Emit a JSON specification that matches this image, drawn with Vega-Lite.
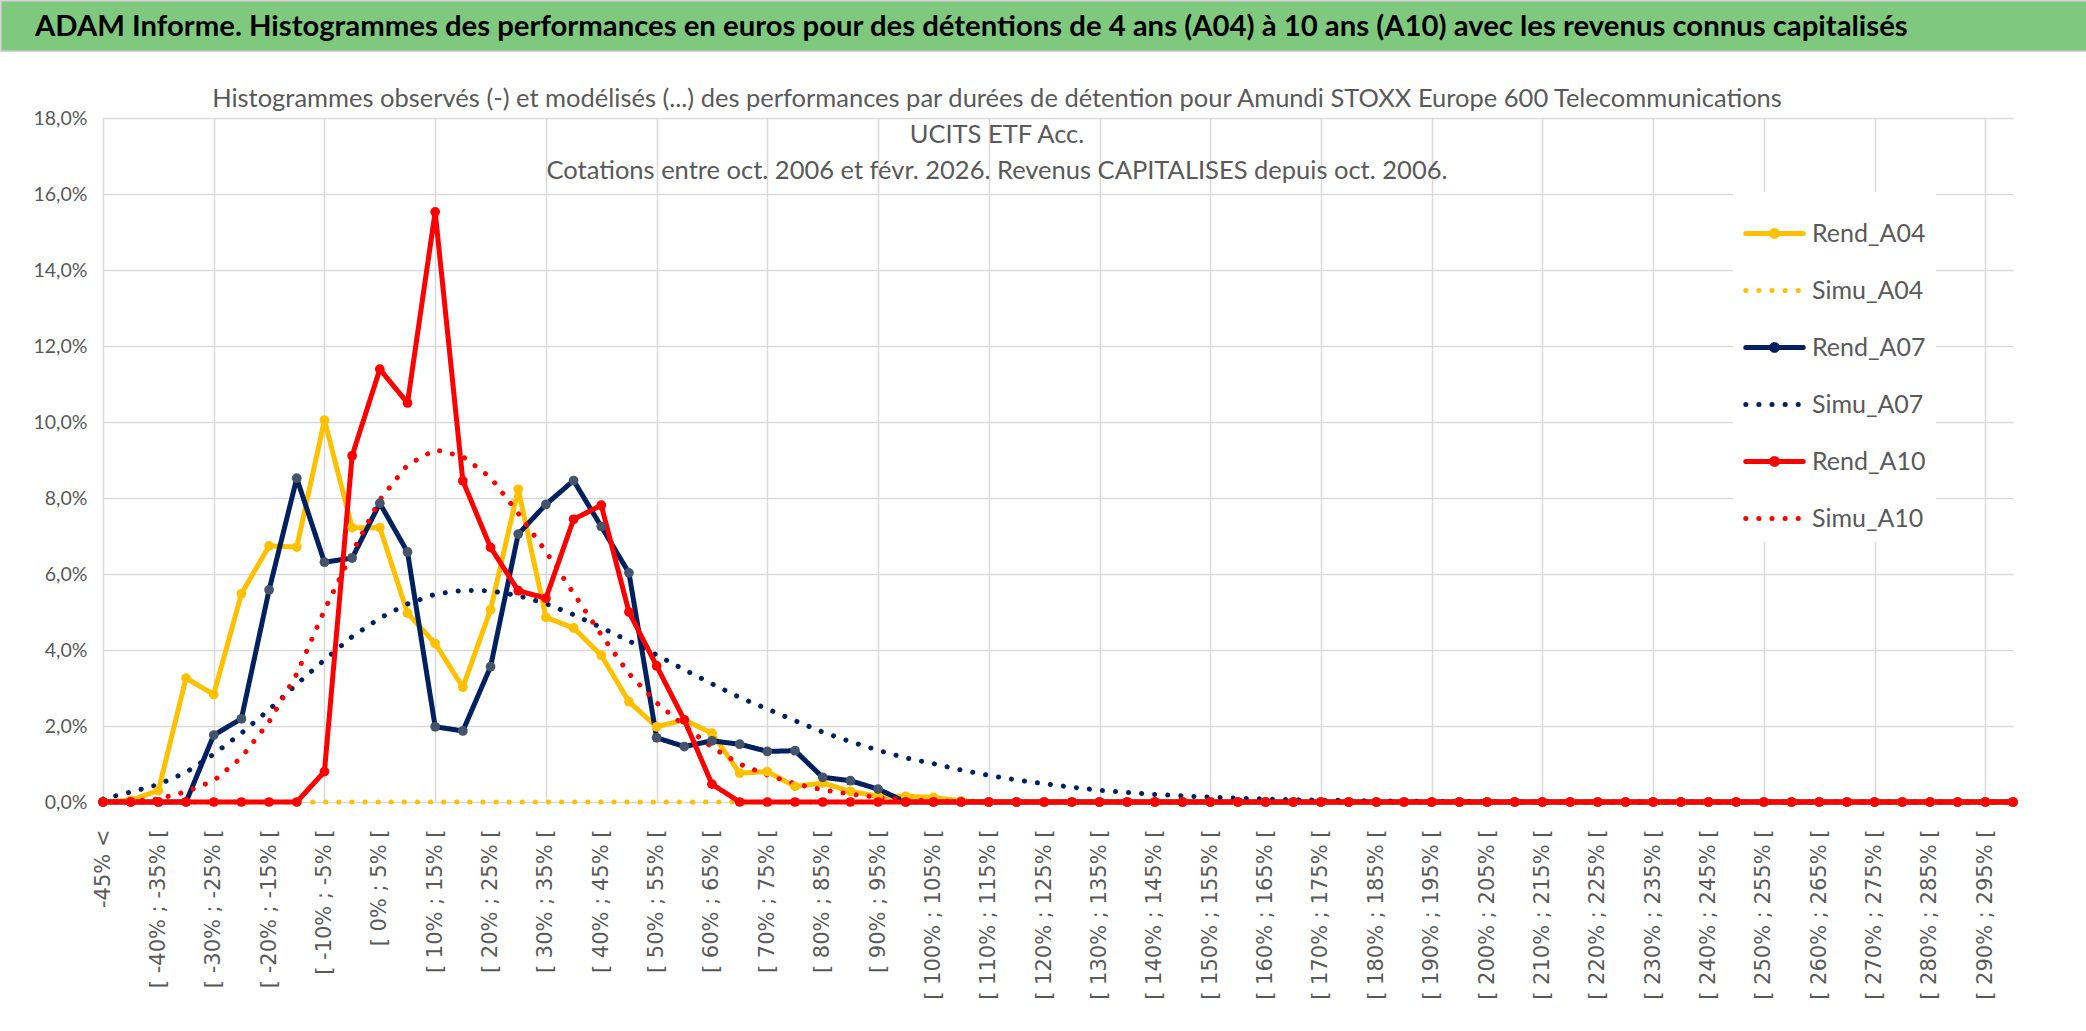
{
  "$schema": "https://vega.github.io/schema/vega-lite/v6.json",
  "description": "ADAM Informe - histogrammes des performances A04 / A07 / A10",
  "background": "white",
  "padding": 0,
  "spacing": 34,
  "config": {
    "locale": {"number": {"decimal": ",", "thousands": " ", "grouping": [3], "currency": ["", " €"]}},
    "view": {"stroke": null},
    "font": "Lato"
  },
  "vconcat": [
    {
      "width": 2086,
      "height": 50,
      "view": {"fill": "#7FC97F", "stroke": "#C8C8C8", "strokeWidth": 1.5},
      "title": {
        "text": "ADAM Informe. Histogrammes des performances en euros pour des détentions de 4 ans (A04) à 10 ans (A10) avec les revenus connus capitalisés",
        "anchor": "start",
        "dx": 34,
        "offset": -41,
        "font": "Lato",
        "fontSize": 29.3,
        "fontWeight": "bold",
        "color": "#000000"
      },
      "data": {"values": []},
      "mark": "rule",
      "encoding": {}
    },
    {
      "width": 2086,
      "height": 684,
      "title": {
        "text": [
          "Histogrammes observés (-) et modélisés (...) des performances par durées de détention pour Amundi STOXX Europe 600 Telecommunications",
          "UCITS ETF Acc.",
          "Cotations entre oct. 2006 et févr. 2026. Revenus CAPITALISES depuis oct. 2006."
        ],
        "anchor": "middle",
        "dx": -47,
        "offset": -76,
        "font": "Lato",
        "fontSize": 25.5,
        "fontWeight": "normal",
        "lineHeight": 36,
        "color": "#595959"
      },
      "data": {
        "values": [
          {"classe": "-45% <", "Rend_A04": 0, "Simu_A04": 0, "Rend_A07": 0, "Simu_A07": 0.0008, "Rend_A10": 0, "Simu_A10": 0},
          {"classe": "[ -45% ; -40% [", "Rend_A04": 0.0005, "Simu_A04": 0, "Rend_A07": 0, "Simu_A07": 0.0026, "Rend_A10": 0, "Simu_A10": 0.0002},
          {"classe": "[ -40% ; -35% [", "Rend_A04": 0.003, "Simu_A04": 0, "Rend_A07": 0, "Simu_A07": 0.0046, "Rend_A10": 0, "Simu_A10": 0.0008},
          {"classe": "[ -35% ; -30% [", "Rend_A04": 0.0326, "Simu_A04": 0, "Rend_A07": 0, "Simu_A07": 0.0078, "Rend_A10": 0, "Simu_A10": 0.0027},
          {"classe": "[ -30% ; -25% [", "Rend_A04": 0.0283, "Simu_A04": 0, "Rend_A07": 0.0176, "Simu_A07": 0.0126, "Rend_A10": 0, "Simu_A10": 0.0056},
          {"classe": "[ -25% ; -20% [", "Rend_A04": 0.0548, "Simu_A04": 0, "Rend_A07": 0.0219, "Simu_A07": 0.0181, "Rend_A10": 0, "Simu_A10": 0.0117},
          {"classe": "[ -20% ; -15% [", "Rend_A04": 0.0674, "Simu_A04": 0, "Rend_A07": 0.0558, "Simu_A07": 0.0243, "Rend_A10": 0, "Simu_A10": 0.0211},
          {"classe": "[ -15% ; -10% [", "Rend_A04": 0.0671, "Simu_A04": 0, "Rend_A07": 0.0852, "Simu_A07": 0.031, "Rend_A10": 0, "Simu_A10": 0.0337},
          {"classe": "[ -10% ; -5% [", "Rend_A04": 0.1005, "Simu_A04": 0, "Rend_A07": 0.0631, "Simu_A07": 0.0374, "Rend_A10": 0.008, "Simu_A10": 0.0505},
          {"classe": "[ -5% ; 0% [", "Rend_A04": 0.0722, "Simu_A04": 0, "Rend_A07": 0.0642, "Simu_A07": 0.0435, "Rend_A10": 0.0911, "Simu_A10": 0.0656},
          {"classe": "[ 0% ; 5% [", "Rend_A04": 0.0722, "Simu_A04": 0, "Rend_A07": 0.0786, "Simu_A07": 0.0484, "Rend_A10": 0.1139, "Simu_A10": 0.0795},
          {"classe": "[ 5% ; 10% [", "Rend_A04": 0.0497, "Simu_A04": 0, "Rend_A07": 0.0658, "Simu_A07": 0.0521, "Rend_A10": 0.105, "Simu_A10": 0.0887},
          {"classe": "[ 10% ; 15% [", "Rend_A04": 0.0417, "Simu_A04": 0, "Rend_A07": 0.0198, "Simu_A07": 0.0547, "Rend_A10": 0.1553, "Simu_A10": 0.0927},
          {"classe": "[ 15% ; 20% [", "Rend_A04": 0.0302, "Simu_A04": 0, "Rend_A07": 0.0187, "Simu_A07": 0.0557, "Rend_A10": 0.0845, "Simu_A10": 0.0909},
          {"classe": "[ 20% ; 25% [", "Rend_A04": 0.0506, "Simu_A04": 0, "Rend_A07": 0.0356, "Simu_A07": 0.0556, "Rend_A10": 0.067, "Simu_A10": 0.0854},
          {"classe": "[ 25% ; 30% [", "Rend_A04": 0.0823, "Simu_A04": 0, "Rend_A07": 0.0705, "Simu_A07": 0.0543, "Rend_A10": 0.0556, "Simu_A10": 0.076},
          {"classe": "[ 30% ; 35% [", "Rend_A04": 0.0486, "Simu_A04": 0, "Rend_A07": 0.0783, "Simu_A07": 0.0522, "Rend_A10": 0.0536, "Simu_A10": 0.0659},
          {"classe": "[ 35% ; 40% [", "Rend_A04": 0.0458, "Simu_A04": 0, "Rend_A07": 0.0846, "Simu_A07": 0.0493, "Rend_A10": 0.0744, "Simu_A10": 0.0549},
          {"classe": "[ 40% ; 45% [", "Rend_A04": 0.0386, "Simu_A04": 0, "Rend_A07": 0.0725, "Simu_A07": 0.0459, "Rend_A10": 0.0781, "Simu_A10": 0.044},
          {"classe": "[ 45% ; 50% [", "Rend_A04": 0.0264, "Simu_A04": 0, "Rend_A07": 0.0603, "Simu_A07": 0.0424, "Rend_A10": 0.05, "Simu_A10": 0.0338},
          {"classe": "[ 50% ; 55% [", "Rend_A04": 0.0198, "Simu_A04": 0, "Rend_A07": 0.0169, "Simu_A07": 0.0387, "Rend_A10": 0.0358, "Simu_A10": 0.0261},
          {"classe": "[ 55% ; 60% [", "Rend_A04": 0.0216, "Simu_A04": 0, "Rend_A07": 0.0146, "Simu_A07": 0.0348, "Rend_A10": 0.0216, "Simu_A10": 0.0201},
          {"classe": "[ 60% ; 65% [", "Rend_A04": 0.0181, "Simu_A04": 0, "Rend_A07": 0.0161, "Simu_A07": 0.0311, "Rend_A10": 0.0047, "Simu_A10": 0.0144},
          {"classe": "[ 65% ; 70% [", "Rend_A04": 0.0076, "Simu_A04": 0, "Rend_A07": 0.0152, "Simu_A07": 0.0275, "Rend_A10": 0, "Simu_A10": 0.01},
          {"classe": "[ 70% ; 75% [", "Rend_A04": 0.008, "Simu_A04": 0, "Rend_A07": 0.0133, "Simu_A07": 0.0245, "Rend_A10": 0, "Simu_A10": 0.0071},
          {"classe": "[ 75% ; 80% [", "Rend_A04": 0.0041, "Simu_A04": 0, "Rend_A07": 0.0135, "Simu_A07": 0.0214, "Rend_A10": 0, "Simu_A10": 0.0048},
          {"classe": "[ 80% ; 85% [", "Rend_A04": 0.005, "Simu_A04": 0, "Rend_A07": 0.0065, "Simu_A07": 0.0184, "Rend_A10": 0, "Simu_A10": 0.0032},
          {"classe": "[ 85% ; 90% [", "Rend_A04": 0.0028, "Simu_A04": 0, "Rend_A07": 0.0056, "Simu_A07": 0.0159, "Rend_A10": 0, "Simu_A10": 0.0021},
          {"classe": "[ 90% ; 95% [", "Rend_A04": 0.0015, "Simu_A04": 0, "Rend_A07": 0.0034, "Simu_A07": 0.0136, "Rend_A10": 0, "Simu_A10": 0.0012},
          {"classe": "[ 95% ; 100% [", "Rend_A04": 0.0015, "Simu_A04": 0, "Rend_A07": 0, "Simu_A07": 0.0116, "Rend_A10": 0, "Simu_A10": 0.0006},
          {"classe": "[ 100% ; 105% [", "Rend_A04": 0.0012, "Simu_A04": 0, "Rend_A07": 0, "Simu_A07": 0.0101, "Rend_A10": 0, "Simu_A10": 0.0003},
          {"classe": "[ 105% ; 110% [", "Rend_A04": 0.0003, "Simu_A04": 0, "Rend_A07": 0, "Simu_A07": 0.0084, "Rend_A10": 0, "Simu_A10": 0.0001},
          {"classe": "[ 110% ; 115% [", "Rend_A04": 0, "Simu_A04": 0, "Rend_A07": 0, "Simu_A07": 0.007, "Rend_A10": 0, "Simu_A10": 0},
          {"classe": "[ 115% ; 120% [", "Rend_A04": 0, "Simu_A04": 0, "Rend_A07": 0, "Simu_A07": 0.0058, "Rend_A10": 0, "Simu_A10": 0},
          {"classe": "[ 120% ; 125% [", "Rend_A04": 0, "Simu_A04": 0, "Rend_A07": 0, "Simu_A07": 0.0048, "Rend_A10": 0, "Simu_A10": 0},
          {"classe": "[ 125% ; 130% [", "Rend_A04": 0, "Simu_A04": 0, "Rend_A07": 0, "Simu_A07": 0.0039, "Rend_A10": 0, "Simu_A10": 0},
          {"classe": "[ 130% ; 135% [", "Rend_A04": 0, "Simu_A04": 0, "Rend_A07": 0, "Simu_A07": 0.0031, "Rend_A10": 0, "Simu_A10": 0},
          {"classe": "[ 135% ; 140% [", "Rend_A04": 0, "Simu_A04": 0, "Rend_A07": 0, "Simu_A07": 0.0025, "Rend_A10": 0, "Simu_A10": 0},
          {"classe": "[ 140% ; 145% [", "Rend_A04": 0, "Simu_A04": 0, "Rend_A07": 0, "Simu_A07": 0.002, "Rend_A10": 0, "Simu_A10": 0},
          {"classe": "[ 145% ; 150% [", "Rend_A04": 0, "Simu_A04": 0, "Rend_A07": 0, "Simu_A07": 0.0016, "Rend_A10": 0, "Simu_A10": 0},
          {"classe": "[ 150% ; 155% [", "Rend_A04": 0, "Simu_A04": 0, "Rend_A07": 0, "Simu_A07": 0.0013, "Rend_A10": 0, "Simu_A10": 0},
          {"classe": "[ 155% ; 160% [", "Rend_A04": 0, "Simu_A04": 0, "Rend_A07": 0, "Simu_A07": 0.001, "Rend_A10": 0, "Simu_A10": 0},
          {"classe": "[ 160% ; 165% [", "Rend_A04": 0, "Simu_A04": 0, "Rend_A07": 0, "Simu_A07": 0.0008, "Rend_A10": 0, "Simu_A10": 0},
          {"classe": "[ 165% ; 170% [", "Rend_A04": 0, "Simu_A04": 0, "Rend_A07": 0, "Simu_A07": 0.0006, "Rend_A10": 0, "Simu_A10": 0},
          {"classe": "[ 170% ; 175% [", "Rend_A04": 0, "Simu_A04": 0, "Rend_A07": 0, "Simu_A07": 0.0005, "Rend_A10": 0, "Simu_A10": 0},
          {"classe": "[ 175% ; 180% [", "Rend_A04": 0, "Simu_A04": 0, "Rend_A07": 0, "Simu_A07": 0.0004, "Rend_A10": 0, "Simu_A10": 0},
          {"classe": "[ 180% ; 185% [", "Rend_A04": 0, "Simu_A04": 0, "Rend_A07": 0, "Simu_A07": 0.0003, "Rend_A10": 0, "Simu_A10": 0},
          {"classe": "[ 185% ; 190% [", "Rend_A04": 0, "Simu_A04": 0, "Rend_A07": 0, "Simu_A07": 0.0002, "Rend_A10": 0, "Simu_A10": 0},
          {"classe": "[ 190% ; 195% [", "Rend_A04": 0, "Simu_A04": 0, "Rend_A07": 0, "Simu_A07": 0.0002, "Rend_A10": 0, "Simu_A10": 0},
          {"classe": "[ 195% ; 200% [", "Rend_A04": 0, "Simu_A04": 0, "Rend_A07": 0, "Simu_A07": 0.0001, "Rend_A10": 0, "Simu_A10": 0},
          {"classe": "[ 200% ; 205% [", "Rend_A04": 0, "Simu_A04": 0, "Rend_A07": 0, "Simu_A07": 0.0001, "Rend_A10": 0, "Simu_A10": 0},
          {"classe": "[ 205% ; 210% [", "Rend_A04": 0, "Simu_A04": 0, "Rend_A07": 0, "Simu_A07": 0, "Rend_A10": 0, "Simu_A10": 0},
          {"classe": "[ 210% ; 215% [", "Rend_A04": 0, "Simu_A04": 0, "Rend_A07": 0, "Simu_A07": 0, "Rend_A10": 0, "Simu_A10": 0},
          {"classe": "[ 215% ; 220% [", "Rend_A04": 0, "Simu_A04": 0, "Rend_A07": 0, "Simu_A07": 0, "Rend_A10": 0, "Simu_A10": 0},
          {"classe": "[ 220% ; 225% [", "Rend_A04": 0, "Simu_A04": 0, "Rend_A07": 0, "Simu_A07": 0, "Rend_A10": 0, "Simu_A10": 0},
          {"classe": "[ 225% ; 230% [", "Rend_A04": 0, "Simu_A04": 0, "Rend_A07": 0, "Simu_A07": 0, "Rend_A10": 0, "Simu_A10": 0},
          {"classe": "[ 230% ; 235% [", "Rend_A04": 0, "Simu_A04": 0, "Rend_A07": 0, "Simu_A07": 0, "Rend_A10": 0, "Simu_A10": 0},
          {"classe": "[ 235% ; 240% [", "Rend_A04": 0, "Simu_A04": 0, "Rend_A07": 0, "Simu_A07": 0, "Rend_A10": 0, "Simu_A10": 0},
          {"classe": "[ 240% ; 245% [", "Rend_A04": 0, "Simu_A04": 0, "Rend_A07": 0, "Simu_A07": 0, "Rend_A10": 0, "Simu_A10": 0},
          {"classe": "[ 245% ; 250% [", "Rend_A04": 0, "Simu_A04": 0, "Rend_A07": 0, "Simu_A07": 0, "Rend_A10": 0, "Simu_A10": 0},
          {"classe": "[ 250% ; 255% [", "Rend_A04": 0, "Simu_A04": 0, "Rend_A07": 0, "Simu_A07": 0, "Rend_A10": 0, "Simu_A10": 0},
          {"classe": "[ 255% ; 260% [", "Rend_A04": 0, "Simu_A04": 0, "Rend_A07": 0, "Simu_A07": 0, "Rend_A10": 0, "Simu_A10": 0},
          {"classe": "[ 260% ; 265% [", "Rend_A04": 0, "Simu_A04": 0, "Rend_A07": 0, "Simu_A07": 0, "Rend_A10": 0, "Simu_A10": 0},
          {"classe": "[ 265% ; 270% [", "Rend_A04": 0, "Simu_A04": 0, "Rend_A07": 0, "Simu_A07": 0, "Rend_A10": 0, "Simu_A10": 0},
          {"classe": "[ 270% ; 275% [", "Rend_A04": 0, "Simu_A04": 0, "Rend_A07": 0, "Simu_A07": 0, "Rend_A10": 0, "Simu_A10": 0},
          {"classe": "[ 275% ; 280% [", "Rend_A04": 0, "Simu_A04": 0, "Rend_A07": 0, "Simu_A07": 0, "Rend_A10": 0, "Simu_A10": 0},
          {"classe": "[ 280% ; 285% [", "Rend_A04": 0, "Simu_A04": 0, "Rend_A07": 0, "Simu_A07": 0, "Rend_A10": 0, "Simu_A10": 0},
          {"classe": "[ 285% ; 290% [", "Rend_A04": 0, "Simu_A04": 0, "Rend_A07": 0, "Simu_A07": 0, "Rend_A10": 0, "Simu_A10": 0},
          {"classe": "[ 290% ; 295% [", "Rend_A04": 0, "Simu_A04": 0, "Rend_A07": 0, "Simu_A07": 0, "Rend_A10": 0, "Simu_A10": 0},
          {"classe": "[ 295% ; 300% [", "Rend_A04": 0, "Simu_A04": 0, "Rend_A07": 0, "Simu_A07": 0, "Rend_A10": 0, "Simu_A10": 0}
        ]
      },
      "transform": [
        {"fold": ["Rend_A04", "Simu_A04", "Rend_A07", "Simu_A07", "Rend_A10", "Simu_A10"], "as": ["serie", "valeur"]}
      ],
      "encoding": {
        "x": {
          "field": "classe",
          "type": "ordinal",
          "sort": null,
          "scale": {"type": "point", "padding": 0, "range": [102, 2012]},
          "axis": {
            "title": null,
            "domain": false,
            "ticks": false,
            "values": ["-45% <", "[ -40% ; -35% [", "[ -30% ; -25% [", "[ -20% ; -15% [", "[ -10% ; -5% [", "[ 0% ; 5% [", "[ 10% ; 15% [", "[ 20% ; 25% [", "[ 30% ; 35% [", "[ 40% ; 45% [", "[ 50% ; 55% [", "[ 60% ; 65% [", "[ 70% ; 75% [", "[ 80% ; 85% [", "[ 90% ; 95% [", "[ 100% ; 105% [", "[ 110% ; 115% [", "[ 120% ; 125% [", "[ 130% ; 135% [", "[ 140% ; 145% [", "[ 150% ; 155% [", "[ 160% ; 165% [", "[ 170% ; 175% [", "[ 180% ; 185% [", "[ 190% ; 195% [", "[ 200% ; 205% [", "[ 210% ; 215% [", "[ 220% ; 225% [", "[ 230% ; 235% [", "[ 240% ; 245% [", "[ 250% ; 255% [", "[ 260% ; 265% [", "[ 270% ; 275% [", "[ 280% ; 285% [", "[ 290% ; 295% ["],
            "labelAngle": 270,
            "labelAlign": "right",
            "labelBaseline": "middle",
            "labelPadding": 27,
            "labelFont": "DejaVu Sans",
            "labelFontSize": 21,
            "labelColor": "#595959",
            "labelOverlap": false,
            "labelLimit": 0,
            "grid": true,
            "gridColor": "#D9D9D9",
            "gridWidth": 1.5,
            "gridOpacity": {
              "condition": {"test": "test(regexp('^. -?[0-9]*[13579]0%'), datum.value) || datum.value === '-45% <'", "value": 1},
              "value": 0
            }
          }
        },
        "y": {
          "field": "valeur",
          "type": "quantitative",
          "scale": {"domain": [0, 0.18], "nice": false},
          "axis": {
            "title": null,
            "domain": false,
            "ticks": false,
            "offset": -102,
            "values": [0, 0.02, 0.04, 0.06, 0.08, 0.1, 0.12, 0.14, 0.16, 0.18],
            "format": ".1%",
            "labelFont": "Lato",
            "labelFontSize": 19.5,
            "labelColor": "#595959",
            "labelPadding": 16,
            "gridColor": "#D9D9D9",
            "gridWidth": 1.5
          }
        }
      },
      "layer": [
        {
          "mark": {"type": "line", "strokeWidth": 5, "strokeCap": "round", "strokeJoin": "round"},
          "encoding": {
            "color": {
              "field": "serie",
              "type": "nominal",
              "scale": {
                "domain": ["Rend_A04", "Simu_A04", "Rend_A07", "Simu_A07", "Rend_A10", "Simu_A10"],
                "range": ["#FFC000", "#FFC000", "#002060", "#002060", "#FF0000", "#FF0000"]
              },
              "legend": {
                "title": null,
                "orient": "none",
                "legendX": 1732,
                "legendY": 191,
                "padding": 10,
                "fillColor": "white",
                "symbolType": "stroke",
                "symbolSize": 3300,
                "symbolStrokeWidth": 5,
                "rowPadding": 12,
                "labelOffset": 6,
                "labelFont": "Lato",
                "labelFontSize": 25,
                "labelColor": "#595959",
                "encode": {
                  "symbols": {
                    "update": {
                      "strokeCap": {"value": "round"},
                      "shape": {"signal": "indexof(datum.value, 'Rend') === 0 ? 'M-1,0H1M-0.1,0A0.1,0.1,0,1,1,0.1,0A0.1,0.1,0,1,1,-0.1,0Z' : 'M-1,0H1'"},
                      "fill": {"signal": "indexof(datum.value, 'Rend') === 0 ? scale('color', datum.value) : 'transparent'"}
                    }
                  }
                }
              }
            },
            "strokeDash": {
              "field": "serie",
              "type": "nominal",
              "scale": {
                "domain": ["Rend_A04", "Simu_A04", "Rend_A07", "Simu_A07", "Rend_A10", "Simu_A10"],
                "range": [[1, 0], [0.1, 13], [1, 0], [0.1, 13], [1, 0], [0.1, 13]]
              }
            }
          }
        },
        {
          "transform": [{"filter": "indexof(datum.serie, 'Rend') === 0"}],
          "mark": {"type": "point", "filled": true, "size": 95, "opacity": 1},
          "encoding": {
            "fill": {
              "field": "serie",
              "type": "nominal",
              "scale": {"domain": ["Rend_A04", "Rend_A07", "Rend_A10"], "range": ["#FFC000", "#44546A", "#FF0000"]},
              "legend": null
            }
          }
        }
      ]
    }
  ]
}
